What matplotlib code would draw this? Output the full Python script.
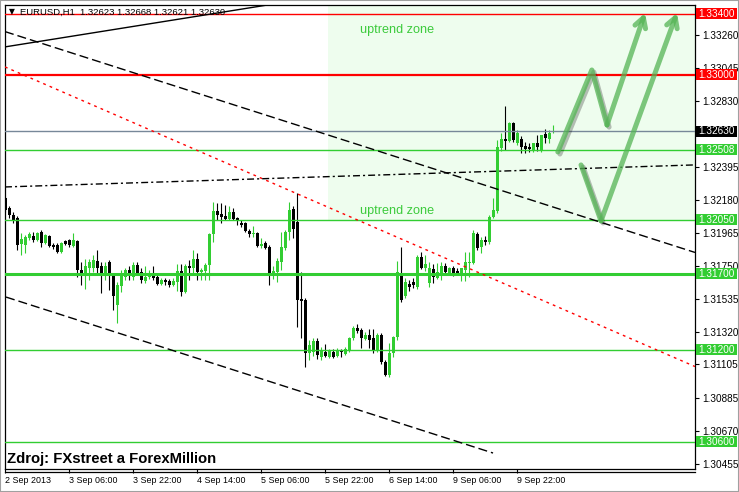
import matplotlib
matplotlib.use('Agg')
import matplotlib.pyplot as plt
import matplotlib.patheffects as pe
import matplotlib.transforms as mtrans
from matplotlib.patches import Rectangle
from matplotlib.lines import Line2D
import numpy as np

# ---------------- DATA ----------------
symbol_title = "EURUSD,H1  1.32623 1.32668 1.32621 1.32630"
source_text = "Zdroj: FXstreet a ForexMillion"
zone_text = "uptrend zone"

opens = [1.32194, 1.32129, 1.32083, 1.32063, 1.31893, 1.31887, 1.31932, 1.31946, 1.31919, 1.31972,
         1.31900, 1.31946, 1.31887, 1.31887, 1.31841, 1.31913, 1.31919, 1.31880, 1.31913, 1.31723,
         1.31704, 1.31736, 1.31736, 1.31782, 1.31749, 1.31691, 1.31776, 1.31684, 1.31494, 1.31619,
         1.31677, 1.31723, 1.31677, 1.31756, 1.31710, 1.31651, 1.31677, 1.31704, 1.31677, 1.31632,
         1.31658, 1.31651, 1.31625, 1.31645, 1.31717, 1.31579, 1.31749, 1.31736, 1.31795, 1.31710,
         1.31717, 1.31756, 1.31959, 1.32109, 1.32089, 1.32076, 1.32057, 1.32102, 1.32063, 1.32031,
         1.32031, 1.31978, 1.31959, 1.31965, 1.31880, 1.31900, 1.31874, 1.31704, 1.31710, 1.31776,
         1.31867, 1.31972, 1.32122, 1.32037, 1.31533, 1.31527, 1.31180, 1.31187, 1.31259, 1.31154,
         1.31187, 1.31154, 1.31187, 1.31161, 1.31200, 1.31174, 1.31193, 1.31278, 1.31344, 1.31331,
         1.31272, 1.31298, 1.31278, 1.31200, 1.31298, 1.31122, 1.31037, 1.31180, 1.31285, 1.31704,
         1.31553, 1.31632, 1.31645, 1.31612, 1.31808, 1.31736, 1.31638, 1.31730, 1.31671, 1.31704,
         1.31749, 1.31704, 1.31736, 1.31717, 1.31691, 1.31723, 1.31769, 1.31769, 1.31959, 1.31874,
         1.31919, 1.31906, 1.32070, 1.32109, 1.32521, 1.32580, 1.32567, 1.32684, 1.32554, 1.32580,
         1.32534, 1.32528, 1.32502, 1.32554, 1.32508, 1.32613, 1.32580, 1.32623]
highs = [1.32201, 1.32142, 1.32102, 1.32076, 1.31965, 1.31952, 1.31972, 1.31972, 1.31972, 1.31985,
         1.31959, 1.31952, 1.31900, 1.31900, 1.31906, 1.31919, 1.31926, 1.31965, 1.31919, 1.31776,
         1.31795, 1.31795, 1.31821, 1.31854, 1.31776, 1.31776, 1.31789, 1.31697, 1.31645, 1.31723,
         1.31736, 1.31749, 1.31776, 1.31776, 1.31736, 1.31749, 1.31723, 1.31749, 1.31691, 1.31671,
         1.31671, 1.31664, 1.31671, 1.31762, 1.31762, 1.31762, 1.31789, 1.31854, 1.31834, 1.31736,
         1.31769, 1.31965, 1.32168, 1.32161, 1.32161, 1.32148, 1.32142, 1.32129, 1.32070, 1.32050,
         1.32037, 1.31991, 1.32011, 1.31972, 1.31932, 1.31913, 1.31887, 1.31749, 1.31802, 1.31972,
         1.31985, 1.32168, 1.32142, 1.32227, 1.31710, 1.31540, 1.31265, 1.31278, 1.31278, 1.31220,
         1.31239, 1.31207, 1.31207, 1.31213, 1.31207, 1.31220, 1.31285, 1.31357, 1.31370, 1.31344,
         1.31318, 1.31337, 1.31337, 1.31311, 1.31311, 1.31135, 1.31246, 1.31290, 1.31782, 1.31874,
         1.31671, 1.31658, 1.31671, 1.31821, 1.31841, 1.31821, 1.31776, 1.31762, 1.31769, 1.31776,
         1.31769, 1.31743, 1.31749, 1.31736, 1.31736, 1.31841, 1.31841, 1.31985, 1.31972, 1.31939,
         1.31946, 1.32083, 1.32194, 1.32573, 1.32619, 1.32796, 1.32691, 1.32691, 1.32639, 1.32599,
         1.32560, 1.32554, 1.32554, 1.32606, 1.32606, 1.32645, 1.32639, 1.32668]
lows = [1.32102, 1.32063, 1.32031, 1.31854, 1.31821, 1.31834, 1.31919, 1.31906, 1.31913, 1.31874,
        1.31893, 1.31874, 1.31861, 1.31834, 1.31834, 1.31887, 1.31874, 1.31874, 1.31677, 1.31625,
        1.31599, 1.31658, 1.31710, 1.31691, 1.31573, 1.31658, 1.31592, 1.31462, 1.31377, 1.31579,
        1.31658, 1.31658, 1.31658, 1.31691, 1.31638, 1.31638, 1.31664, 1.31658, 1.31625, 1.31625,
        1.31625, 1.31612, 1.31619, 1.31586, 1.31553, 1.31573, 1.31658, 1.31691, 1.31658, 1.31658,
        1.31658, 1.31658, 1.31906, 1.32050, 1.32031, 1.32050, 1.32050, 1.32050, 1.32018, 1.32004,
        1.31972, 1.31939, 1.31939, 1.31874, 1.31867, 1.31861, 1.31625, 1.31664, 1.31645, 1.31723,
        1.31854, 1.31919, 1.31932, 1.31350, 1.31278, 1.31089, 1.31135, 1.31161, 1.31141, 1.31135,
        1.31154, 1.31148, 1.31148, 1.31154, 1.31154, 1.31167, 1.31187, 1.31265, 1.31311, 1.31213,
        1.31265, 1.31213, 1.31180, 1.31187, 1.31108, 1.31030, 1.31024, 1.31154, 1.31265, 1.31515,
        1.31540, 1.31586, 1.31605, 1.31599, 1.31730, 1.31717, 1.31612, 1.31638, 1.31664, 1.31658,
        1.31697, 1.31691, 1.31684, 1.31697, 1.31651, 1.31651, 1.31677, 1.31762, 1.31854, 1.31834,
        1.31887, 1.31893, 1.32063, 1.32096, 1.32502, 1.32508, 1.32560, 1.32560, 1.32541, 1.32488,
        1.32488, 1.32495, 1.32495, 1.32502, 1.32495, 1.32554, 1.32554, 1.32621]
closes = [1.32116, 1.32083, 1.32050, 1.31887, 1.31926, 1.31939, 1.31959, 1.31919, 1.31965, 1.31900,
          1.31952, 1.31880, 1.31874, 1.31841, 1.31900, 1.31893, 1.31887, 1.31919, 1.31723, 1.31697,
          1.31749, 1.31776, 1.31789, 1.31736, 1.31704, 1.31749, 1.31691, 1.31553, 1.31625, 1.31691,
          1.31723, 1.31691, 1.31756, 1.31704, 1.31658, 1.31677, 1.31704, 1.31671, 1.31632, 1.31658,
          1.31645, 1.31625, 1.31651, 1.31717, 1.31579, 1.31749, 1.31736, 1.31795, 1.31710, 1.31723,
          1.31756, 1.31959, 1.32109, 1.32083, 1.32070, 1.32057, 1.32102, 1.32057, 1.32050, 1.32018,
          1.31978, 1.31959, 1.31965, 1.31880, 1.31893, 1.31867, 1.31704, 1.31717, 1.31782, 1.31874,
          1.31972, 1.32116, 1.31991, 1.31527, 1.31520, 1.31180, 1.31233, 1.31259, 1.31167, 1.31193,
          1.31161, 1.31193, 1.31154, 1.31200, 1.31187, 1.31207, 1.31278, 1.31344, 1.31324, 1.31278,
          1.31298, 1.31265, 1.31200, 1.31298, 1.31122, 1.31037, 1.31180, 1.31285, 1.31710, 1.31527,
          1.31645, 1.31612, 1.31625, 1.31808, 1.31736, 1.31762, 1.31736, 1.31677, 1.31710, 1.31749,
          1.31710, 1.31736, 1.31697, 1.31704, 1.31736, 1.31776, 1.31776, 1.31965, 1.31867, 1.31919,
          1.31906, 1.32070, 1.32116, 1.32528, 1.32580, 1.32567, 1.32684, 1.32573, 1.32619, 1.32528,
          1.32514, 1.32514, 1.32554, 1.32528, 1.32606, 1.32586, 1.32619, 1.32630]

xtick_bars = [0, 16, 32, 48, 64, 80, 96, 112, 128]
xtick_labels = ['2 Sep 2013', '3 Sep 06:00', '3 Sep 22:00', '4 Sep 14:00', '5 Sep 06:00',
                '5 Sep 22:00', '6 Sep 14:00', '9 Sep 06:00', '9 Sep 22:00']
ytick_values = [1.33260, 1.33045, 1.32830, 1.32395, 1.32180, 1.31965, 1.31750, 1.31535,
                1.31320, 1.31105, 1.30885, 1.30670, 1.30455]

# horizontal levels
red_levels = [1.33400, 1.33000]
red_widths = [1.0, 1.6]
green_levels = [1.32508, 1.32050, 1.31700, 1.31200, 1.30600]
green_widths = [1.0, 1.0, 2.2, 1.0, 1.0]
bid_price = 1.32630

# trend-line anchors (bar index, price)
upper_channel = [(0.125, 1.33280), (148.6, 1.32037)]
lower_channel = [(0.125, 1.31546), (121.9, 1.30526)]
red_dotted = [(-0.125, 1.33051), (172.1, 1.31095)]
dashdot_line = [(-0.125, 1.32266), (172.1, 1.32410)]
top_solid = [(-0.125, 1.33182), (68.6, 1.33469)]

zone_rect = (80.6, 1.32050, 1.33600)   # left bar, bottom price, top price
zone_labels = [(88.6, 1.33293), (88.6, 1.32109)]

arrow_a = [(138.1, 1.32495), (146.6, 1.33031), (150.4, 1.32671), (159.9, 1.33404)]
arrow_b = [(143.9, 1.32410), (148.9, 1.32044), (167.9, 1.33404)]

# ---------------- FIGURE ----------------
W, H = 739, 492
fig = plt.figure(figsize=(W / 100, H / 100), dpi=100)
fig.patch.set_facecolor('white')
L, R, T, B = 5, 695, 5, 469
ax = fig.add_axes([L / W, 1 - B / H, (R - L) / W, (B - T) / H])
ax.set_facecolor('white')
ax.set_xlim(-0.125, 172.4)
ax.set_ylim(1.304215, 1.33456)

GREEN = '#32CD32'

# zone rectangle
ax.add_patch(Rectangle((zone_rect[0], zone_rect[1]), 200, zone_rect[2] - zone_rect[1],
                       facecolor='#EEFDEE', edgecolor='none', zorder=0.5))

# candles
x = np.arange(len(opens))
o = np.array(opens); h = np.array(highs); l = np.array(lows); c = np.array(closes)
up = c >= o
cols = np.where(up, GREEN, 'black')
ax.vlines(x, l, h, colors=cols, lw=0.8, zorder=2)
bottom = np.minimum(o, c)
height = np.maximum(np.abs(c - o), 0.00007)
ax.bar(x, height, bottom=bottom, width=0.75, color=cols, linewidth=0, zorder=2.1)

# horizontal levels
for p, w in zip(red_levels, red_widths):
    ax.axhline(p, color='red', lw=w, zorder=3)
for p, w in zip(green_levels, green_widths):
    ax.axhline(p, color=GREEN, lw=w, zorder=3)
ax.axhline(bid_price, color='#778899', lw=1.0, zorder=3)

# trend lines
ax.axline(upper_channel[0], upper_channel[1], color='black', lw=1.0, dashes=(6.5, 2.9), zorder=3)
ax.plot([lower_channel[0][0], lower_channel[1][0]], [lower_channel[0][1], lower_channel[1][1]],
        color='black', lw=1.0, dashes=(6.5, 2.9), zorder=3)
ax.axline(red_dotted[0], red_dotted[1], color='red', lw=1.0, dashes=(2.0, 3.0), zorder=3)
ax.axline(dashdot_line[0], dashdot_line[1], color='black', lw=1.0, dashes=(5, 2.2, 1.5, 2.2), zorder=3)
ax.axline(top_solid[0], top_solid[1], color='black', lw=1.0, zorder=3)

# zone labels
for zx, zy in zone_labels:
    ax.text(zx, zy, zone_text, color='#3CCB3C', fontsize=9.1, family='Liberation Sans',
            ha='left', va='center', zorder=4)

# arrows
arr_col = '#55B455'
shadow = [pe.SimpleLineShadow(offset=(1.5, -1.5), alpha=0.25), pe.Normal()]
for path in (arrow_a, arrow_b):
    xs = [p[0] for p in path[:-1]]
    ys = [p[1] for p in path[:-1]]
    ax.plot(xs, ys, color=arr_col, lw=3.6, alpha=0.75, solid_capstyle='round',
            solid_joinstyle='round', zorder=5, path_effects=shadow)
    ax.annotate('', xy=path[-1], xytext=path[-2],
                arrowprops=dict(arrowstyle='->,head_length=0.7,head_width=0.4', color=arr_col,
                                lw=3.6, alpha=0.75, shrinkA=0, shrinkB=0,
                                joinstyle='round', capstyle='round'),
                zorder=5)

# axes styling
for s in ax.spines.values():
    s.set_color('black'); s.set_linewidth(0.9)
ax.set_xticks(xtick_bars)
ax.set_xticklabels(xtick_labels, ha='left', fontsize=6.4, family='Liberation Sans')
ax.tick_params(axis='x', direction='out', length=3, width=0.8, pad=2, color='black')
ax.yaxis.tick_right()
ax.set_yticks(ytick_values)
ax.set_yticklabels(['%.5f' % v for v in ytick_values], fontsize=7.2, family='Liberation Sans')
ax.tick_params(axis='y', direction='out', length=3, width=0.8, pad=2, color='black')

# price labels on the right axis
trans = mtrans.blended_transform_factory(ax.transAxes, ax.transData)
box_w = 41 / (R - L)
box_h = 11 * (ax.get_ylim()[1] - ax.get_ylim()[0]) / (B - T)
def price_label(p, bg, fg='white'):
    ax.add_patch(Rectangle((1.0015, p - box_h / 2), box_w, box_h, transform=trans,
                           facecolor=bg, edgecolor='none', clip_on=False, zorder=6))
    ax.text(1.0045, p, '%.5f' % p, transform=trans, color=fg, fontsize=7.2,
            family='Liberation Sans', ha='left', va='center', clip_on=False, zorder=7)
for p in red_levels:
    price_label(p, '#FF0000')
for p in green_levels:
    price_label(p, GREEN)
price_label(bid_price, 'black')

# title & source texts
fig.text(9 / W, 1 - 12 / H, '▼', fontsize=5.5, family='DejaVu Sans', ha='left', va='center')
fig.text(20 / W, 1 - 12 / H, symbol_title, fontsize=6.8, family='Liberation Sans',
         ha='left', va='center', color='black')
fig.text(7 / W, 1 - 459 / H, source_text, fontsize=10.7, family='Liberation Sans',
         weight='bold', ha='left', va='center', color='black')

# double bottom line & outer frame
fig.add_artist(Line2D([L / W, R / W], [1 - 472 / H, 1 - 472 / H], color='black', lw=0.9))
fig.add_artist(Rectangle((0, 0), 1, 1, transform=fig.transFigure, fill=False,
                         edgecolor='#A0A0A0', lw=1.5))

fig.savefig('out.png', dpi=100)
